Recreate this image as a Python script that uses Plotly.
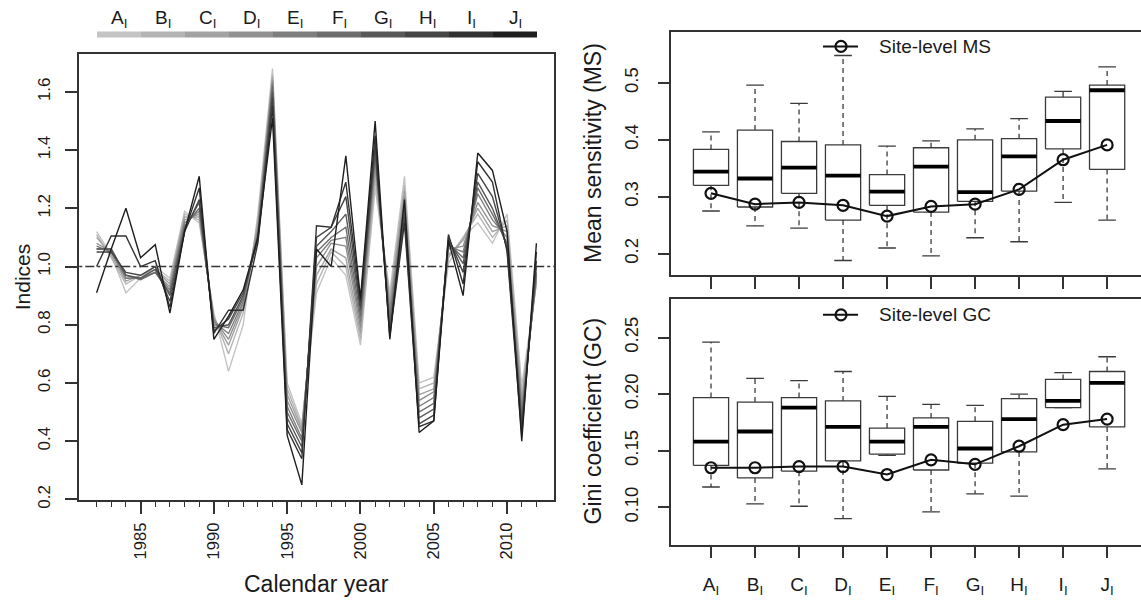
import plotly.graph_objects as go

W, H = 1141, 608

years = list(range(1982, 2013))
series_names = ["A", "B", "C", "D", "E", "F", "G", "H", "I", "J"]

idx_A = [1.12, 1.04, 0.91, 0.96, 1.00, 0.96, 1.19, 1.15, 0.84, 0.64, 0.80, 1.18, 1.68, 0.60, 0.46, 0.91, 1.03, 0.97, 0.73, 1.27, 0.91, 1.31, 0.60, 0.62, 1.01, 1.10, 1.15, 1.08, 1.18, 0.59, 0.94]
idx_B = [1.11, 1.03, 0.94, 0.97, 0.99, 0.95, 1.18, 1.16, 0.83, 0.70, 0.84, 1.16, 1.66, 0.58, 0.45, 0.94, 1.05, 1.00, 0.75, 1.30, 0.89, 1.28, 0.58, 0.60, 1.03, 1.10, 1.18, 1.10, 1.16, 0.56, 0.95]
idx_C = [1.10, 1.04, 0.95, 0.97, 0.99, 0.94, 1.17, 1.17, 0.82, 0.73, 0.86, 1.15, 1.65, 0.56, 0.44, 0.97, 1.06, 1.03, 0.77, 1.33, 0.87, 1.26, 0.56, 0.58, 1.04, 1.09, 1.20, 1.12, 1.14, 0.54, 0.95]
idx_D = [1.08, 1.05, 0.96, 0.96, 0.98, 0.93, 1.16, 1.18, 0.82, 0.75, 0.87, 1.13, 1.64, 0.54, 0.43, 1.00, 1.08, 1.07, 0.79, 1.35, 0.85, 1.24, 0.54, 0.57, 1.06, 1.07, 1.22, 1.14, 1.12, 0.52, 0.96]
idx_E = [1.07, 1.05, 0.96, 0.96, 0.98, 0.92, 1.15, 1.19, 0.81, 0.77, 0.88, 1.12, 1.63, 0.52, 0.41, 1.03, 1.09, 1.10, 0.81, 1.37, 0.83, 1.22, 0.52, 0.55, 1.07, 1.05, 1.25, 1.16, 1.10, 0.50, 0.97]
idx_F = [1.06, 1.06, 0.97, 0.955, 0.98, 0.91, 1.14, 1.20, 0.80, 0.79, 0.89, 1.11, 1.62, 0.50, 0.40, 1.05, 1.10, 1.135, 0.83, 1.39, 0.81, 1.20, 0.50, 0.53, 1.08, 1.03, 1.27, 1.18, 1.08, 0.48, 0.98]
idx_G = [1.06, 1.06, 0.97, 0.96, 0.99, 0.90, 1.13, 1.22, 0.79, 0.80, 0.90, 1.10, 1.60, 0.48, 0.38, 1.07, 1.12, 1.18, 0.85, 1.40, 0.79, 1.19, 0.48, 0.51, 1.09, 1.01, 1.29, 1.20, 1.07, 0.46, 1.00]
idx_H = [1.05, 1.05, 0.98, 0.97, 1.00, 0.88, 1.12, 1.23, 0.78, 0.82, 0.91, 1.09, 1.58, 0.46, 0.36, 1.10, 1.135, 1.24, 0.86, 1.42, 0.77, 1.17, 0.46, 0.49, 1.10, 0.98, 1.32, 1.24, 1.06, 0.45, 1.02]
idx_I = [1.00, 1.105, 1.105, 1.00, 1.02, 0.86, 1.12, 1.27, 0.77, 0.85, 0.85, 1.08, 1.55, 0.44, 0.34, 1.14, 1.135, 1.29, 0.88, 1.45, 0.76, 1.15, 0.45, 0.47, 1.11, 0.94, 1.36, 1.29, 1.05, 0.42, 1.05]
idx_J = [0.91, 1.06, 1.20, 1.03, 1.075, 0.84, 1.12, 1.31, 0.75, 0.83, 0.92, 1.10, 1.51, 0.42, 0.25, 1.06, 1.00, 1.38, 0.89, 1.50, 0.75, 1.23, 0.43, 0.47, 1.09, 0.90, 1.39, 1.33, 1.12, 0.40, 1.08]
indices = [idx_A, idx_B, idx_C, idx_D, idx_E, idx_F, idx_G, idx_H, idx_I, idx_J]

# Mean sensitivity boxplot stats (lower whisker, Q1, median, Q3, upper whisker) and site-level values
ms_low = [0.275, 0.249, 0.245, 0.188, 0.210, 0.196, 0.228, 0.221, 0.290, 0.259]
ms_q1 = [0.320, 0.282, 0.306, 0.259, 0.285, 0.273, 0.292, 0.310, 0.384, 0.348]
ms_med = [0.344, 0.332, 0.351, 0.337, 0.309, 0.353, 0.308, 0.371, 0.433, 0.487]
ms_q3 = [0.383, 0.417, 0.397, 0.391, 0.339, 0.386, 0.400, 0.402, 0.475, 0.496]
ms_high = [0.414, 0.496, 0.464, 0.548, 0.389, 0.398, 0.419, 0.437, 0.485, 0.528]
ms_site = [0.306, 0.287, 0.290, 0.285, 0.266, 0.283, 0.287, 0.313, 0.365, 0.391]

# Gini coefficient boxplot stats and site-level values
gc_low = [0.118, 0.103, 0.101, 0.090, 0.146, 0.096, 0.112, 0.110, 0.188, 0.134]
gc_q1 = [0.137, 0.126, 0.132, 0.141, 0.147, 0.133, 0.139, 0.149, 0.188, 0.171]
gc_med = [0.158, 0.167, 0.188, 0.171, 0.158, 0.171, 0.152, 0.178, 0.194, 0.210]
gc_q3 = [0.197, 0.193, 0.197, 0.194, 0.170, 0.179, 0.176, 0.196, 0.213, 0.220]
gc_high = [0.246, 0.214, 0.212, 0.220, 0.198, 0.191, 0.190, 0.200, 0.219, 0.233]
gc_site = [0.135, 0.135, 0.136, 0.136, 0.129, 0.142, 0.138, 0.154, 0.173, 0.178]

cat_labels = [f"{c}<sub>I</sub>" for c in series_names]
grays = ["#c4c4c4", "#b4b4b4", "#a2a2a2", "#909090", "#7e7e7e", "#6c6c6c", "#585858", "#454545", "#323232", "#1e1e1e"]

FONT = "Liberation Sans, Arial, Helvetica, sans-serif"
AX = "#333333"
TXT = "#1a1a1a"

fig = go.Figure()

# ---- left panel: indices ----
for name, vals, col in zip(series_names, indices, grays):
    fig.add_trace(go.Scatter(x=years, y=vals, mode="lines", line=dict(color=col, width=1.4),
                             xaxis="x", yaxis="y", showlegend=False, name=name))
fig.add_trace(go.Scatter(x=[1980, 2014], y=[1.0, 1.0], mode="lines",
                         line=dict(color="#333333", width=1.4, dash="dashdot"),
                         xaxis="x", yaxis="y", showlegend=False))

# ---- boxplots ----
def add_boxes(low, q1, med, q3, high, site, xa, ya):
    xs = list(range(1, len(med) + 1))
    bx, by, wx, wy, cx, cy, mx, my = [], [], [], [], [], [], [], []
    for i, x in enumerate(xs):
        bx += [x - 0.4, x + 0.4, x + 0.4, x - 0.4, x - 0.4, None]
        by += [q1[i], q1[i], q3[i], q3[i], q1[i], None]
        wx += [x, x, None, x, x, None]
        wy += [q3[i], high[i], None, q1[i], low[i], None]
        cx += [x - 0.2, x + 0.2, None, x - 0.2, x + 0.2, None]
        cy += [high[i], high[i], None, low[i], low[i], None]
        mx += [x - 0.4, x + 0.4, None]
        my += [med[i], med[i], None]
    common = dict(mode="lines", xaxis=xa, yaxis=ya, showlegend=False, hoverinfo="skip")
    fig.add_trace(go.Scatter(x=wx, y=wy, line=dict(color="#3a3a3a", width=1.3, dash="5px,4px"), **common))
    fig.add_trace(go.Scatter(x=cx, y=cy, line=dict(color="#3a3a3a", width=1.3), **common))
    fig.add_trace(go.Scatter(x=bx, y=by, line=dict(color="#3a3a3a", width=1.3), **common))
    fig.add_trace(go.Scatter(x=mx, y=my, line=dict(color="#000000", width=3.8), **common))
    fig.add_trace(go.Scatter(x=xs, y=site, mode="lines+markers", xaxis=xa, yaxis=ya, showlegend=False,
                             line=dict(color="#111111", width=2),
                             marker=dict(symbol="circle-open", size=11, color="#111111", line=dict(width=2.2))))

add_boxes(ms_low, ms_q1, ms_med, ms_q3, ms_high, ms_site, "x2", "y2")
add_boxes(gc_low, gc_q1, gc_med, gc_q3, gc_high, gc_site, "x3", "y3")

# ---- legend samples on a pixel overlay ----
for ly in (47, 319):
    fig.add_trace(go.Scatter(x=[823, 858], y=[ly, ly], mode="lines", line=dict(color="#111111", width=2),
                             xaxis="x4", yaxis="y4", showlegend=False, hoverinfo="skip"))
    fig.add_trace(go.Scatter(x=[841], y=[ly], mode="markers", xaxis="x4", yaxis="y4", showlegend=False,
                             marker=dict(symbol="circle-open", size=11, color="#111111", line=dict(width=2.2)),
                             hoverinfo="skip"))

shapes = []
seg_x0, seg_w = 97, 44
for i, col in enumerate(grays):
    shapes.append(dict(type="rect", xref="x4", yref="y4", x0=seg_x0 + i * seg_w, x1=seg_x0 + (i + 1) * seg_w,
                       y0=32, y1=38, fillcolor=col, line=dict(width=0), layer="above"))

annotations = []
for i, lab in enumerate(cat_labels):
    annotations.append(dict(xref="x4", yref="y4", x=seg_x0 + (i + 0.5) * seg_w, y=19, text=lab,
                            showarrow=False, font=dict(size=19, color=TXT, family=FONT)))
annotations += [
    dict(xref="x4", yref="y4", x=877, y=47, text="Site-level MS", xanchor="left", showarrow=False,
         font=dict(size=19, color=TXT, family=FONT)),
    dict(xref="x4", yref="y4", x=877, y=319, text="Site-level GC", xanchor="left", showarrow=False,
         font=dict(size=19, color=TXT, family=FONT)),
    dict(xref="x4", yref="y4", x=22, y=281, text="Indices", textangle=-90, showarrow=False,
         font=dict(size=21, color=TXT, family=FONT)),
    dict(xref="x4", yref="y4", x=316, y=592, text="Calendar year", showarrow=False,
         font=dict(size=23, color=TXT, family=FONT)),
    dict(xref="x4", yref="y4", x=593, y=155, text="Mean sensitivity (MS)", textangle=-90, showarrow=False,
         font=dict(size=23, color=TXT, family=FONT)),
    dict(xref="x4", yref="y4", x=593, y=427, text="Gini coefficient (GC)", textangle=-90, showarrow=False,
         font=dict(size=23, color=TXT, family=FONT)),
]

def px_x(p):
    return p / W

def px_y(p):
    return 1 - p / H

axis_common = dict(showgrid=False, zeroline=False, showline=True, linecolor=AX, linewidth=1.5,
                   ticks="outside", tickcolor=AX)

fig.update_layout(
    width=W, height=H, margin=dict(l=0, r=0, t=0, b=0),
    paper_bgcolor="white", plot_bgcolor="rgba(0,0,0,0)", showlegend=False,
    xaxis=dict(domain=[px_x(79), px_x(554)], range=[1980.8, 2013.2], anchor="y", mirror=True,
               tickvals=[1985, 1990, 1995, 2000, 2005, 2010], tickangle=-90, ticklen=12, tickwidth=2.4,
               ticklabelstandoff=2, tickfont=dict(size=16.5, color=TXT, family=FONT),
               minor=dict(tickvals=years, ticklen=5, tickwidth=1.3, tickcolor=AX, ticks="outside"),
               **axis_common),
    yaxis=dict(domain=[px_y(507), px_y(55)], range=[0.197, 1.729], anchor="x", mirror=True,
               tickvals=[0.2, 0.4, 0.6, 0.8, 1.0, 1.2, 1.4, 1.6], tickformat=".1f", tickangle=-90,
               ticklen=12, tickwidth=1.5, ticklabelstandoff=8,
               tickfont=dict(size=17, color=TXT, family=FONT), **axis_common),
    xaxis2=dict(domain=[px_x(671.4), 1.0], range=[0.1, 10.77], anchor="y2", mirror=True,
                tickvals=list(range(1, 11)), showticklabels=False, ticklen=12, tickwidth=1.5, **axis_common),
    yaxis2=dict(domain=[px_y(279), px_y(32)], range=[0.162, 0.590], anchor="x2",
                tickvals=[0.2, 0.3, 0.4, 0.5], tickformat=".1f", tickangle=-90,
                ticklen=12, tickwidth=1.5, ticklabelstandoff=12,
                tickfont=dict(size=18.5, color=TXT, family=FONT), **axis_common),
    xaxis3=dict(domain=[px_x(671.4), 1.0], range=[0.1, 10.77], anchor="y3", mirror=True,
                tickvals=list(range(1, 11)), ticktext=cat_labels, ticklen=12, tickwidth=1.5,
                ticklabelstandoff=10, tickfont=dict(size=19, color=TXT, family=FONT), **axis_common),
    yaxis3=dict(domain=[px_y(552), px_y(303)], range=[0.067, 0.284], anchor="x3",
                tickvals=[0.10, 0.15, 0.20, 0.25], tickformat=".2f", tickangle=-90,
                ticklen=12, tickwidth=1.5, ticklabelstandoff=12,
                tickfont=dict(size=18.5, color=TXT, family=FONT), **axis_common),
    xaxis4=dict(domain=[0, 1], range=[0, W], visible=False, anchor="y4", fixedrange=True),
    yaxis4=dict(domain=[0, 1], range=[H, 0], visible=False, anchor="x4", fixedrange=True),
    shapes=shapes, annotations=annotations,
)

fig.write_html("out.html")
